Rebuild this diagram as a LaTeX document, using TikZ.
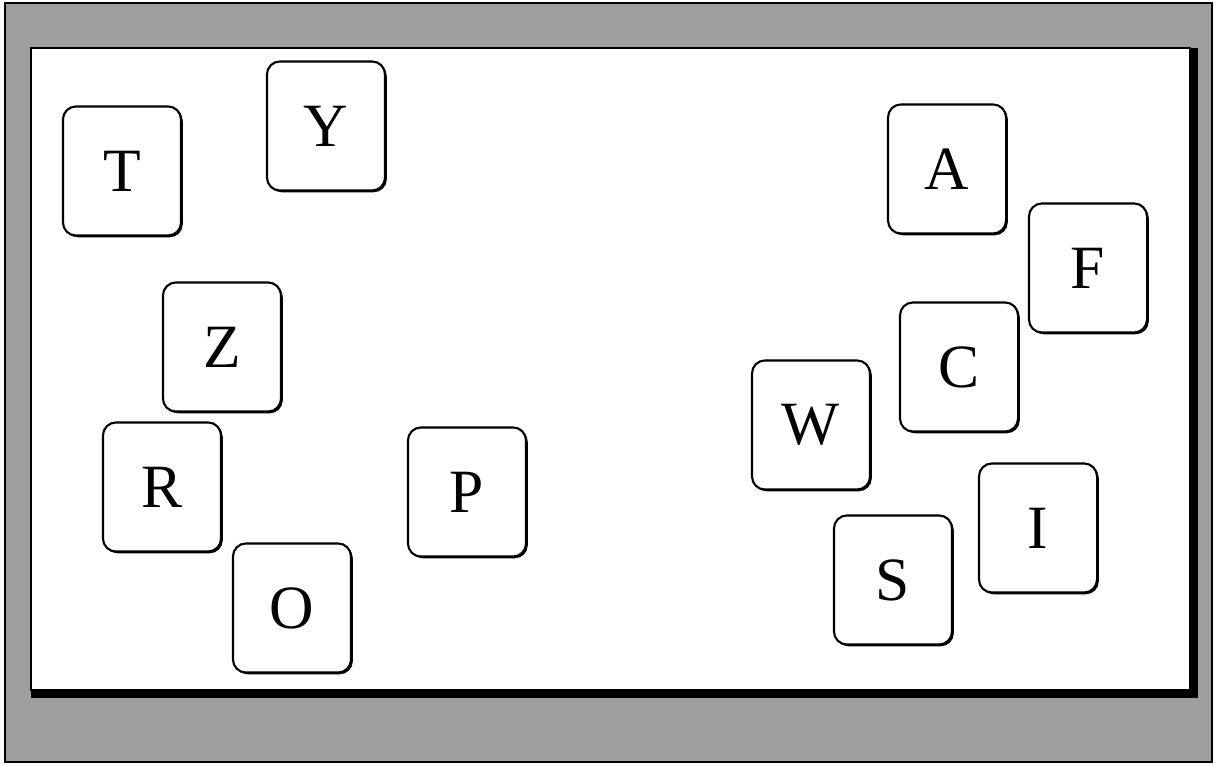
\documentclass[tikz,border=0pt]{standalone}
\usepackage{fontspec}
\setmainfont{Liberation Serif}
\usetikzlibrary{shadows}
\begin{document}
\begin{tikzpicture}[x=0.01cm,y=-0.01cm,
    card/.style={draw,line width=0.6pt,rounded corners=1.3mm,fill=white,
        minimum width=1.18cm,minimum height=1.29cm,inner sep=0pt,
        font=\fontsize{17.5}{20}\selectfont,
        drop shadow={shadow xshift=0.5pt,shadow yshift=-0.5pt,fill=black,opacity=1}}]
\useasboundingbox (0,0) rectangle (1222,765);
% frame
\draw[line width=0.6pt,fill=black!38](5,3) rectangle (1212,762);
\fill(31,48) rectangle (1198,698);
\draw[line width=0.8pt,fill=white](31,48) rectangle (1190,690);

% left group
\node[card] (T) at (122,171) {T};
\node[card] (Y) at (326,126) {Y};
\node[card] (Z) at (222,347) {Z};
\node[card] (R) at (162,487) {R};
\node[card] (O) at (292,608) {O};
\node[card] (P) at (467,492) {P};

% right group
\node[card] (A) at (947,169) {A};
\node[card] (F) at (1088,268) {F};
\node[card] (C) at (959,367) {C};
\node[card] (W) at (811,425) {W};
\node[card] (I) at (1038,528) {I};
\node[card] (S) at (893,580) {S};

\end{tikzpicture}
\end{document}
